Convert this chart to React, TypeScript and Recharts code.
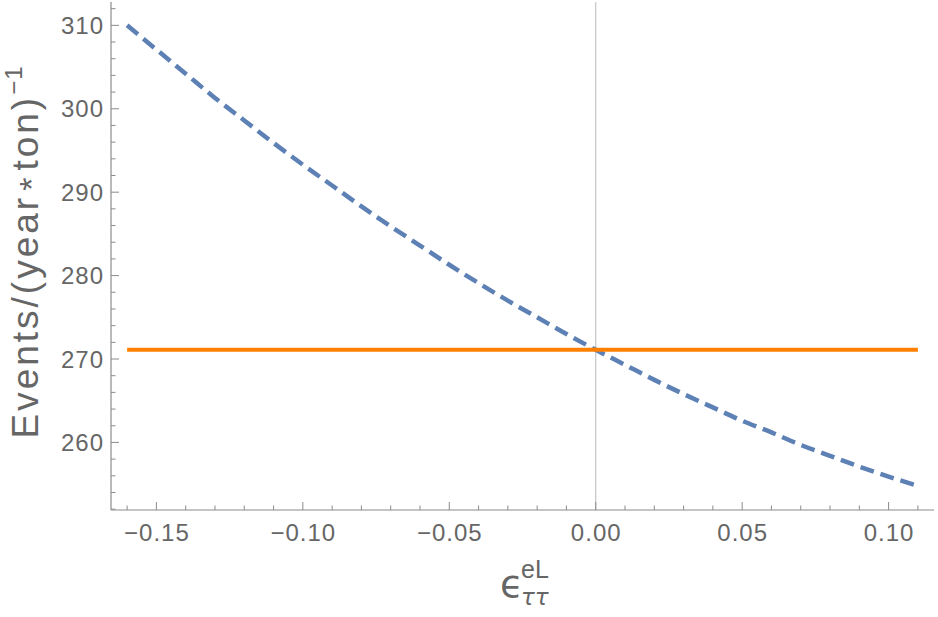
import React from "react";
import { LineChart, Line, XAxis, YAxis, ReferenceLine } from "recharts";

// couplings epsilon_tautau^eL (x) and read-off event rates
const couplingValues = [
  -0.16, -0.15, -0.14, -0.13, -0.12, -0.11, -0.1, -0.09, -0.08, -0.07, -0.06, -0.05, -0.04, -0.03,
  -0.02, -0.01, 0, 0.01, 0.02, 0.03, 0.04, 0.05, 0.06, 0.07, 0.08, 0.09, 0.1, 0.11,
];
const eventValues = [
  310.0, 307.1, 304.2, 301.3, 298.6, 295.9, 293.3, 290.8, 288.3, 285.9, 283.6, 281.3, 279.1, 277.0,
  275.0, 273.0, 271.1, 269.3, 267.5, 265.8, 264.2, 262.6, 261.2, 259.7, 258.4, 257.1, 255.9, 254.8,
];
const smValue = [271.1];

const xMajorTicks = [-0.15, -0.1, -0.05, 0, 0.05, 0.1];
const xAllTicks = [
  -0.16, -0.15, -0.14, -0.13, -0.12, -0.11, -0.1, -0.09, -0.08, -0.07, -0.06, -0.05, -0.04, -0.03,
  -0.02, -0.01, 0, 0.01, 0.02, 0.03, 0.04, 0.05, 0.06, 0.07, 0.08, 0.09, 0.1, 0.11,
];
const yMajorTicks = [260, 270, 280, 290, 300, 310];
const yAllTicks = [
  252, 254, 256, 258, 260, 262, 264, 266, 268, 270, 272, 274, 276, 278, 280, 282, 284, 286, 288, 290,
  292, 294, 296, 298, 300, 302, 304, 306, 308, 310, 312,
];

const data = couplingValues.map((x, i) => ({ x, events: eventValues[i], sm: smValue[0] }));

const FRAME = "#8c8c8c";
const LABEL = "#666666";
const FONT = "'Liberation Sans', Arial, Helvetica, sans-serif";
const GREEK = "'DejaVu Sans', 'Noto Sans', sans-serif";
const MAJOR = 8;
const MINOR = 4.5;

const isMajor = (v: number, majors: number[]) => majors.some((m) => Math.abs(m - v) < 1e-9);
const fmtX = (v: number) => {
  const s = Math.abs(v).toFixed(2);
  return v < -1e-9 ? "\u2212" + s : s;
};

const BottomTick = (props: any) => {
  const { x, y, payload } = props;
  const major = isMajor(payload.value, xMajorTicks);
  return (
    <g>
      <line x1={x} x2={x} y1={y} y2={y - (major ? MAJOR : MINOR)} stroke={FRAME} strokeWidth={1} />
      {major && (
        <text
          x={x + 0.5}
          y={y + 31}
          textAnchor="middle"
          fill={LABEL}
          fontSize={24}
          letterSpacing={1}
          fontFamily={FONT}
        >
          {fmtX(payload.value)}
        </text>
      )}
    </g>
  );
};

const TopTick = (props: any) => {
  const { x, y, payload } = props;
  const major = isMajor(payload.value, xMajorTicks);
  return <line x1={x} x2={x} y1={y} y2={y + (major ? MAJOR : MINOR)} stroke={FRAME} strokeWidth={1} />;
};

const LeftTick = (props: any) => {
  const { x, y, payload } = props;
  const major = isMajor(payload.value, yMajorTicks);
  return (
    <g>
      <line x1={x} x2={x + (major ? MAJOR : MINOR)} y1={y} y2={y} stroke={FRAME} strokeWidth={1} />
      {major && (
        <text
          x={x - 7}
          y={y + 8.5}
          textAnchor="end"
          fill={LABEL}
          fontSize={24}
          letterSpacing={1}
          fontFamily={FONT}
        >
          {payload.value}
        </text>
      )}
    </g>
  );
};

const RightTick = (props: any) => {
  const { x, y, payload } = props;
  const major = isMajor(payload.value, yMajorTicks);
  return <line x1={x} x2={x - (major ? MAJOR : MINOR)} y1={y} y2={y} stroke={FRAME} strokeWidth={1} />;
};

const YTitle = () => (
  <text
    x={38}
    y={252}
    transform="rotate(-90, 38, 252)"
    textAnchor="middle"
    fill={LABEL}
    fontSize={37}
    letterSpacing={3}
    fontFamily={FONT}
  >
    Events/(year
    <tspan fontSize={34} dx={4} dy={5}>
      *
    </tspan>
    <tspan dx={4} dy={-5}>
      ton)
    </tspan>
    <tspan dy={-16} fontSize={24} letterSpacing={1}>
      −1
    </tspan>
  </text>
);

const XTitle = () => (
  <g fill={LABEL}>
    <text x={500} y={597} fontSize={38} fontFamily={GREEK}>
      ϵ
    </text>
    <text x={521} y={578} fontSize={25} fontFamily={FONT}>
      eL
    </text>
    <text x={521} y={605} fontSize={23} fontStyle="italic" fontFamily={GREEK}>
      ττ
    </text>
  </g>
);

export default function App() {
  return (
    <div style={{ position: "absolute", left: 0, top: 0, width: 938, height: 617, background: "#fff" }}>
      <LineChart width={938} height={617} data={data} margin={{ top: 2, right: 4, bottom: 0, left: 0 }}>
        <XAxis
          xAxisId="b"
          dataKey="x"
          type="number"
          domain={[-0.1655, 0.1155]}
          allowDataOverflow
          ticks={xAllTicks}
          interval={0}
          height={107}
          tickSize={0}
          tickMargin={0}
          tickLine={false}
          axisLine={{ stroke: FRAME, strokeWidth: 1.2 }}
          tick={<BottomTick />}
          label={() => <XTitle />}
        />
        <XAxis
          xAxisId="t"
          dataKey="x"
          type="number"
          orientation="top"
          domain={[-0.1655, 0.1155]}
          allowDataOverflow
          ticks={xAllTicks}
          interval={0}
          height={0}
          tickSize={0}
          tickMargin={0}
          tickLine={false}
          axisLine={{ stroke: FRAME, strokeWidth: 1.2 }}
          tick={<TopTick />}
        />
        <YAxis
          yAxisId="l"
          type="number"
          domain={[251.9, 312.8]}
          allowDataOverflow
          ticks={yAllTicks}
          interval={0}
          width={111}
          tickSize={0}
          tickMargin={0}
          tickLine={false}
          axisLine={{ stroke: FRAME, strokeWidth: 1.2 }}
          tick={<LeftTick />}
          label={() => <YTitle />}
        />
        <YAxis
          yAxisId="r"
          orientation="right"
          type="number"
          domain={[251.9, 312.8]}
          allowDataOverflow
          ticks={yAllTicks}
          interval={0}
          width={0}
          tickSize={0}
          tickMargin={0}
          tickLine={false}
          axisLine={{ stroke: FRAME, strokeWidth: 1.2 }}
          tick={<RightTick />}
        />
        <ReferenceLine xAxisId="b" yAxisId="l" x={0} stroke="#c4c4c4" strokeWidth={1.2} />
        <Line
          xAxisId="b"
          yAxisId="l"
          type="monotone"
          dataKey="events"
          stroke="#5E81B5"
          strokeWidth={4.5}
          strokeDasharray="14 7"
          dot={false}
          isAnimationActive={false}
        />
        <Line
          xAxisId="b"
          yAxisId="l"
          type="linear"
          dataKey="sm"
          stroke="#FF8000"
          strokeWidth={4}
          dot={false}
          isAnimationActive={false}
        />
      </LineChart>
    </div>
  );
}
